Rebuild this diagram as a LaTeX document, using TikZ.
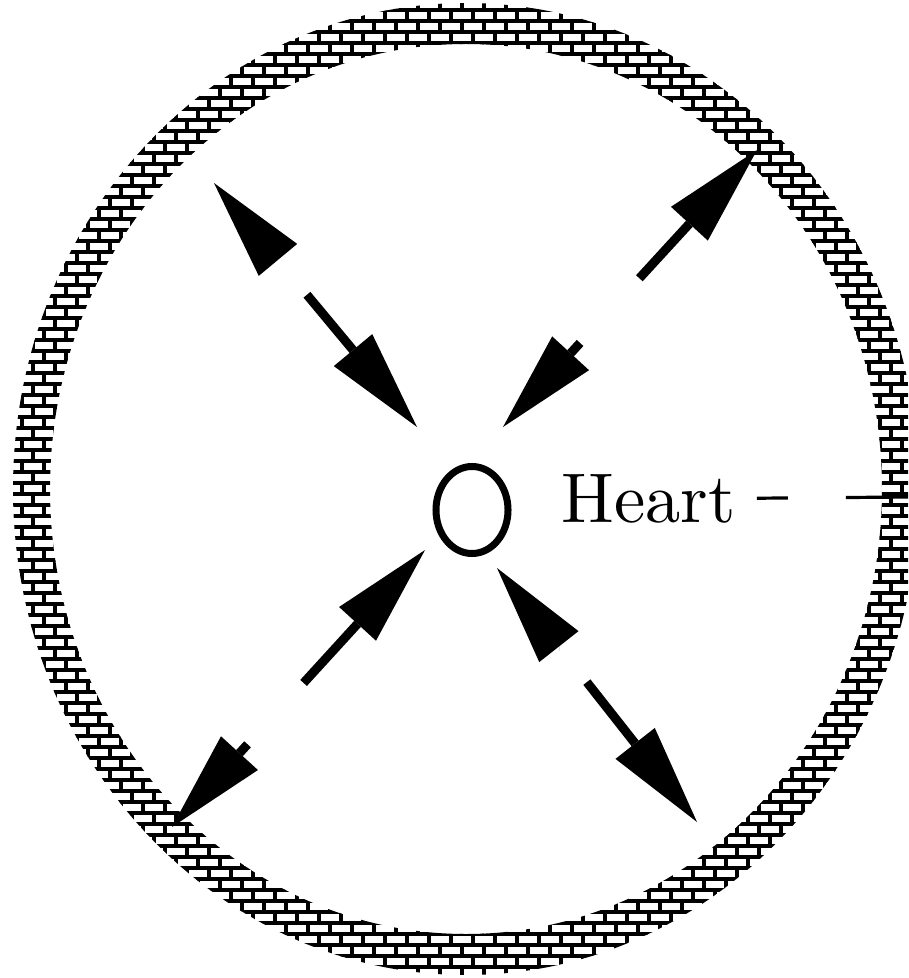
\documentclass[tikz,border=0pt]{standalone}
\usetikzlibrary{arrows.meta, calc, patterns.meta, shapes.geometric}

% brick tile: two courses, joints shifted by half a brick
\tikzdeclarepattern{
  name=wallbricks,
  type=uncolored,
  bottom left={(-0.06cm,-0.06cm)},
  top right={(0.61cm,0.61cm)},
  tile size={(0.55cm,0.55cm)},
  code={
    \draw[line width=0.09cm]
      (0,0) -- (0.55cm,0)
      (0,0.275cm) -- (0.55cm,0.275cm)
      (0,0) -- (0,0.275cm)
      (0.275cm,0.275cm) -- (0.275cm,0.55cm);
  }
}

\tikzset{
  flow/.style={line width=0.225cm,
    -{Triangle[length=2.5cm, width=1.25cm, line width=0pt]}},
  wall/.style={pattern=wallbricks, pattern color=black, even odd rule},
}

\begin{document}
\begin{tikzpicture}[x=0.025cm, y=-0.025cm]

\useasboundingbox (0,0) rectangle (908,978);
\clip (0,0) rectangle (908,978);

% --- Wall ---
\coordinate (mid) at (466,489);
\fill[wall] (mid) ellipse [x radius=453, y radius=486]
            (mid) ellipse [x radius=416, y radius=445];

% --- Heart ---
\node[draw, ellipse, line width=0.175cm, inner sep=0,
      minimum width=1.8cm, minimum height=2.175cm] (core) at (472,510) {};
\node[font=\fontsize{10}{12}\selectfont, scale=5, transform shape,
      anchor=base west, inner sep=0] (heartlbl) at (560,522) {Heart};

\coordinate (wallR) at (910,497);
\draw[line width=0.08cm, dash pattern=on 0.775cm off 1.45cm on 5cm,
      shorten <=0.5cm] (heartlbl.east) -- (wallR);

% --- Arrow tips ---
\coordinate (ulout) at (214,183);
\coordinate (ulin)  at (417,427);
\coordinate (urin)  at (503,427);
\coordinate (urout) at (757,150);
\coordinate (llin)  at (425,550);
\coordinate (llout) at (172,827);
\coordinate (lrin)  at (497,568);
\coordinate (lrout) at (697,822);

% --- Where the shafts start ---
\coordinate (ulA) at ($(ulin)!4.3cm!(ulout)$);
\coordinate (ulB) at ($(ulout)!2.5cm!(ulin)$);
\coordinate (urA) at ($(urout)!4.35cm!(urin)$);
\coordinate (urB) at ($(urin)!2.85cm!(urout)$);
\coordinate (llA) at ($(llin)!4.5cm!(llout)$);
\coordinate (llB) at ($(llout)!2.8cm!(llin)$);
\coordinate (lrA) at ($(lrout)!4.45cm!(lrin)$);
\coordinate (lrB) at ($(lrin)!2.5cm!(lrout)$);

% --- Arrows ---
\draw[flow] (ulA) -- (ulin);
\draw[flow] (ulB) -- (ulout);
\draw[flow] (urA) -- (urout);
\draw[flow] (urB) -- (urin);
\draw[flow] (llA) -- (llin);
\draw[flow] (llB) -- (llout);
\draw[flow] (lrA) -- (lrout);
\draw[flow] (lrB) -- (lrin);

\end{tikzpicture}
\end{document}
